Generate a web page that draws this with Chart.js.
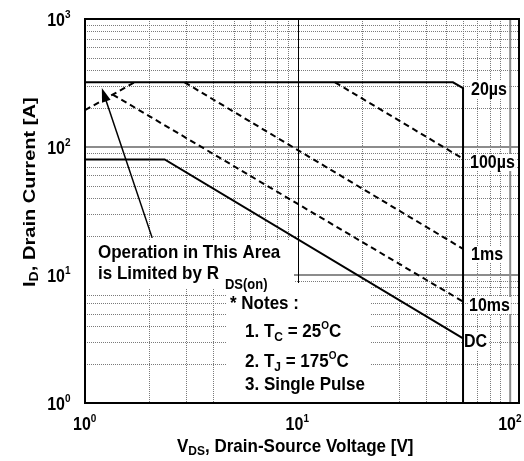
<!DOCTYPE html>
<html>
<head>
<meta charset="utf-8">
<script src="https://cdn.jsdelivr.net/npm/chart.js@4.4.0/dist/chart.umd.min.js"></script>
<style>
  html,body{margin:0;padding:0;background:#fff}
  canvas{display:block}
</style>
</head>
<body>
<canvas id="soa" width="524" height="461"></canvas>
<script>
// Safe operating area (log-log): V_DS [V] vs I_D [A]

// grid positions (1..9 per decade)
const xGrid = [1,2,3,4,5,6,7,8,9,10,20,30,40,50,60,70,80,90,100];
const yGrid = [1,2,3,4,5,6,7,8,9,10,20,30,40,50,60,70,80,90,100,200,300,400,500,600,700,800,900,1000];
const xDecades = [1,10,100];
const yDecades = [1,10,100,1000];

// curves
const rdsLimit   = [{x:1,y:194},{x:1.71,y:320}];
const pulse20us  = [{x:1,y:320},{x:53.8,y:320},{x:60,y:288},{x:60,y:1}];
const pulse100us = [{x:15,y:320},{x:60,y:81}];
const pulse1ms   = [{x:2.94,y:320},{x:60,y:16}];
const pulse10ms  = [{x:1.35,y:257},{x:60,y:6.2}];
const dcLimit    = [{x:1,y:80},{x:2.37,y:80},{x:60,y:3.2}];

const curveLabels = ['20µs','100µs','1ms','10ms','DC'];

const FONT = '"Liberation Sans", Arial, Helvetica, sans-serif';
const STRETCH = 1.12; // source glyphs are a bit taller than wide
function f(sz){ return 'bold ' + sz + 'px ' + FONT; }

// draws a run of text pieces [text, size, dy], returns width
function rich(ctx, x, y, parts, sy){
  sy = sy || STRETCH;
  let cx = x;
  parts.forEach(([t, sz, dy])=>{
    ctx.font = f(sz);
    ctx.save();
    ctx.translate(cx, y + (dy || 0));
    ctx.scale(1, sy);
    ctx.fillText(t, 0, 0);
    ctx.restore();
    cx += ctx.measureText(t).width;
  });
  return cx - x;
}

const soaPlugin = {
  id: 'soaDecor',
  beforeDatasetsDraw(chart){
    const {ctx, chartArea: a, scales: {x, y}} = chart;
    ctx.save();
    const seg = (x1,y1,x2,y2)=>{ ctx.beginPath(); ctx.moveTo(x1,y1); ctx.lineTo(x2,y2); ctx.stroke(); };

    // dotted minor grid
    ctx.lineWidth = 1;
    ctx.strokeStyle = '#7a7a7a';
    ctx.setLineDash([1,1]);
    xGrid.forEach(v=>{
      if(xDecades.includes(v)) return;
      const px = Math.round(x.getPixelForValue(v)) + 0.5;
      seg(px, a.top, px, a.bottom);
    });
    yGrid.forEach(v=>{
      if(yDecades.includes(v)) return;
      const py = Math.round(y.getPixelForValue(v)) + 0.5;
      seg(a.left, py, a.right, py);
    });
    ctx.setLineDash([]);

    // decade lines
    ctx.strokeStyle = '#8c8c8c';
    ctx.lineWidth = 2;
    [10,100].forEach(v=>{ const py = y.getPixelForValue(v); seg(a.left, py, a.right, py); });
    const p100 = x.getPixelForValue(100);
    seg(p100, a.top, p100, a.bottom);
    ctx.strokeStyle = '#000';
    ctx.lineWidth = 1;
    const p10 = Math.round(x.getPixelForValue(10)) + 0.5;
    seg(p10, a.top, p10, a.bottom);

    // white panels behind the notes
    ctx.fillStyle = '#fff';
    ctx.fillRect(a.left + 1, 240, 208, 49);
    ctx.fillRect(227, 283, 143, a.bottom - 284);
    ctx.restore();
  },
  afterDatasetsDraw(chart){
    const {ctx, chartArea: a, scales: {x, y}} = chart;
    ctx.save();
    ctx.fillStyle = '#000';
    ctx.textBaseline = 'alphabetic';
    ctx.textAlign = 'left';

    // curve labels with white backing
    const labelPos = [[471,95],[470,168],[471,260],[469,311],[464,347]];
    curveLabels.forEach((t,i)=>{
      ctx.font = f(16);
      const w = ctx.measureText(t).width;
      const [lx, ly] = labelPos[i];
      ctx.fillStyle = '#fff';
      ctx.fillRect(lx, ly - 14, w + 1, 17);
      ctx.fillStyle = '#000';
      rich(ctx, lx, ly, [[t,16]]);
    });

    // arrow pointing at the R_DS(on) limit
    const tx = x.getPixelForValue(2.07), ty = y.getPixelForValue(19.5);
    const hx = x.getPixelForValue(1.2),  hy = y.getPixelForValue(289);
    const dx = hx - tx, dy = hy - ty, len = Math.hypot(dx, dy);
    const ux = dx/len, uy = dy/len;
    ctx.strokeStyle = '#000';
    ctx.lineWidth = 1.5;
    ctx.beginPath(); ctx.moveTo(tx, ty); ctx.lineTo(hx - ux*10, hy - uy*10); ctx.stroke();
    ctx.beginPath();
    ctx.moveTo(hx, hy);
    ctx.lineTo(hx - ux*14 - uy*4.5, hy - uy*14 + ux*4.5);
    ctx.lineTo(hx - ux*14 + uy*4.5, hy - uy*14 - ux*4.5);
    ctx.closePath(); ctx.fill();

    // notes
    rich(ctx, 98, 258, [['Operation in This Area',17]]);
    const w1 = rich(ctx, 98, 279, [['is Limited by R',17]]);
    rich(ctx, 98 + w1 + 6, 279, [['DS(on)',13,10]]);
    rich(ctx, 230, 309, [['* Notes :',17]]);
    rich(ctx, 245, 337, [['1. T',17],['C',12,4],[' = 25',17],['O',10,-8],['C',17]]);
    rich(ctx, 245, 367, [['2. T',17],['J',12,4],[' = 175',17],['O',10,-8],['C',17]]);
    rich(ctx, 245, 390, [['3. Single Pulse',17]]);

    // frame
    ctx.lineWidth = 2;
    ctx.strokeStyle = '#000';
    ctx.strokeRect(a.left, a.top, a.right - a.left, a.bottom - a.top);

    // tick labels 10^n
    yDecades.forEach((v,i)=>{
      const py = y.getPixelForValue(v) + 7;
      ctx.font = f(16);
      const w = ctx.measureText('10').width;
      rich(ctx, 65 - w, py, [['10',16],[String(i),10,-8]]);
    });
    xDecades.forEach((v,i)=>{
      const px = x.getPixelForValue(v) - 12;
      rich(ctx, px, 430, [['10',16],[String(i),10,-8]]);
    });

    // axis titles
    rich(ctx, 177, 452, [['V',17],['DS',12,3],[', Drain-Source Voltage [V]',17]]);
    ctx.save();
    ctx.translate(35, 287);
    ctx.rotate(-Math.PI/2);
    ctx.scale(1.18, 1);
    rich(ctx, 0, 0, [['I',17],['D',12,3],[', Drain Current [A]',17]], 1);
    ctx.restore();

    ctx.restore();
  }
};

const solid = {borderColor:'#000', borderWidth:2, pointRadius:0, showLine:true, fill:false, tension:0};
const dashed = Object.assign({}, solid, {borderDash:[6,4]});

new Chart(document.getElementById('soa'), {
  type: 'scatter',
  data: {
    datasets: [
      Object.assign({label:'RDS(on) limit', data: rdsLimit}, dashed),
      Object.assign({label:'20µs', data: pulse20us}, solid),
      Object.assign({label:'100µs', data: pulse100us}, dashed),
      Object.assign({label:'1ms', data: pulse1ms}, dashed),
      Object.assign({label:'10ms', data: pulse10ms}, dashed),
      Object.assign({label:'DC', data: dcLimit}, solid)
    ]
  },
  options: {
    responsive: false,
    devicePixelRatio: 1,
    animation: false,
    layout: {padding: {top: 19, right: 5, left: 0, bottom: 0}},
    plugins: {legend: {display: false}, tooltip: {enabled: false}},
    scales: {
      x: {
        type: 'logarithmic', min: 1, max: 110,
        grid: {display: false}, border: {display: false},
        ticks: {display: false},
        afterFit(s){ s.height = 58; }
      },
      y: {
        type: 'logarithmic', min: 1, max: 1000,
        grid: {display: false}, border: {display: false},
        ticks: {display: false},
        afterFit(s){ s.width = 85; }
      }
    }
  },
  plugins: [soaPlugin]
});
</script>
</body>
</html>
